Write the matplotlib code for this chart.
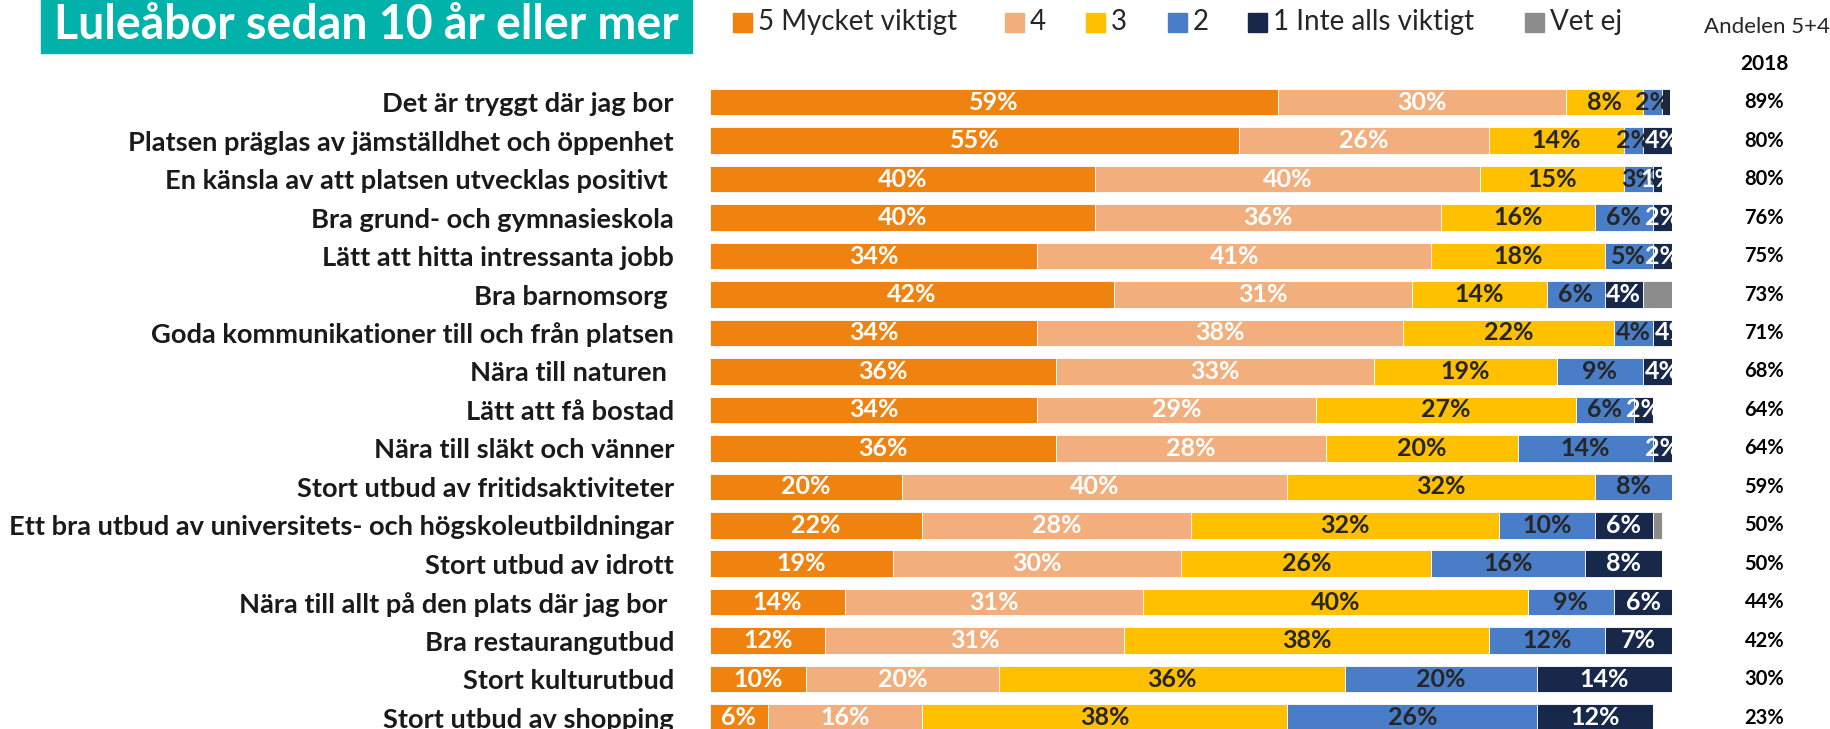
import matplotlib.pyplot as plt
from matplotlib.patches import Rectangle
import numpy as np

plt.rcParams['font.family'] = ['Lato', 'DejaVu Sans']

categories = [
    'Det är tryggt där jag bor',
    'Platsen präglas av jämställdhet och öppenhet',
    'En känsla av att platsen utvecklas positivt ',
    'Bra grund- och gymnasieskola',
    'Lätt att hitta intressanta jobb',
    'Bra barnomsorg ',
    'Goda kommunikationer till och från platsen',
    'Nära till naturen ',
    'Lätt att få bostad',
    'Nära till släkt och vänner',
    'Stort utbud av fritidsaktiviteter',
    'Ett bra utbud av universitets- och högskoleutbildningar',
    'Stort utbud av idrott',
    'Nära till allt på den plats där jag bor ',
    'Bra restaurangutbud',
    'Stort kulturutbud',
    'Stort utbud av shopping',
]
v5 = [59, 55, 40, 40, 34, 42, 34, 36, 34, 36, 20, 22, 19, 14, 12, 10, 6]
v4 = [30, 26, 40, 36, 41, 31, 38, 33, 29, 28, 40, 28, 30, 31, 31, 20, 16]
v3 = [8, 14, 15, 16, 18, 14, 22, 19, 27, 20, 32, 32, 26, 40, 38, 36, 38]
v2 = [2, 2, 3, 6, 5, 6, 4, 9, 6, 14, 8, 10, 16, 9, 12, 20, 26]
v1 = [0.8, 4, 1, 2, 2, 4, 4, 4, 2, 2, 0.3, 6, 8, 6, 7, 14, 12]
vetej = [0, 0, 0, 0, 0, 3, 0, 0, 0, 0, 0, 1, 0, 0.3, 0, 0, 0]
andel_54 = [89, 80, 80, 76, 75, 73, 71, 68, 64, 64, 59, 50, 50, 44, 42, 30, 23]

series = [v5, v4, v3, v2, v1, vetej]
names = ['5 Mycket viktigt', '4', '3', '2', '1 Inte alls viktigt', 'Vet ej']
colors = ['#F0820F', '#F2AE7C', '#FFC000', '#4A7DC8', '#17284A', '#8C8C8C']
txtcol = ['white', 'white', '#262626', '#262626', 'white', None]

W, H = 1831, 729
fig = plt.figure(figsize=(W / 100, H / 100), dpi=100)
step = 38.46
ax = fig.add_axes([710 / W, (H - 83 - 17 * step) / H, (1672 - 710) / W, 17 * step / H])

y = np.arange(len(categories))
left = np.zeros(len(categories))
for k, vals in enumerate(series):
    vals = np.array(vals, dtype=float)
    ax.barh(y, vals, left=left, height=0.69, color=colors[k],
            edgecolor='white', linewidth=0.6)
    if txtcol[k]:
        for i, v in enumerate(vals):
            if v >= 1:
                t = ax.text(left[i] + v / 2, y[i], f'{int(v)}%', ha='center', va='center',
                            color=txtcol[k], fontsize=18, fontweight='bold')
                t.set_clip_on(True)
    left += vals

ax.set_xlim(0, 100)
ax.set_ylim(len(categories) - 0.5, -0.5)
ax.set_yticks(y)
ax.set_yticklabels(categories, fontsize=19.6, fontweight='bold', color='#1a1a1a')
ax.tick_params(axis='y', length=0, pad=26)
ax.set_xticks([])
for s in ax.spines.values():
    s.set_visible(False)

# right column
for i, v in enumerate(andel_54):
    ax.text(1.096, y[i], f'{v}%', transform=ax.get_yaxis_transform(),
            ha='center', va='center', fontsize=14.5, fontweight='bold', color='black')
fig.text(1765 / W, 1 - 64 / H, '2018', ha='center', va='center',
         fontsize=15, fontweight='bold', color='black')
fig.text(1704 / W, 1 - 27 / H, 'Andelen 5+4', ha='left', va='center',
         fontsize=16, color='#262626')

# title box
fig.patches.append(Rectangle((41 / W, 1 - 52.6 / H), (692 - 41) / W, 52.6 / H,
                             transform=fig.transFigure, color='#00B2A9'))
fig.text(366 / W, 1 - 25 / H, 'Luleåbor sedan 10 år eller mer', ha='center', va='center',
         fontsize=33.5, fontweight='bold', color='white')

# legend, placed by hand like the original
leg_x = [733, 1005, 1086, 1168, 1248, 1525]
for xx, c, n in zip(leg_x, colors, names):
    fig.patches.append(Rectangle((xx / W, 1 - 32 / H), 19 / W, 19 / H,
                                 transform=fig.transFigure, color=c))
    fig.text((xx + 25) / W, 1 - 22 / H, n, ha='left', va='center',
             fontsize=20, color='#262626')

fig.savefig('out.png', dpi=100)
